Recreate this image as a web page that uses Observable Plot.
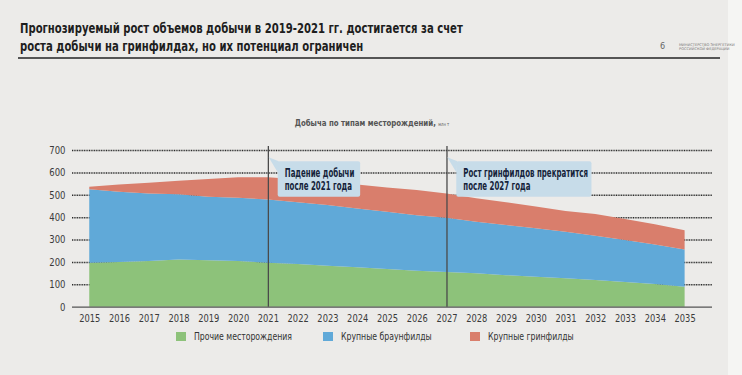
<!DOCTYPE html>
<html><head><meta charset="utf-8">
<script src="https://cdn.jsdelivr.net/npm/d3@7"></script>
<script src="https://cdn.jsdelivr.net/npm/@observablehq/plot@0.6"></script>
<style>
html,body{margin:0;padding:0;}
body{width:742px;height:375px;background:#ecebe9;position:relative;overflow:hidden;
 font-family:"Liberation Sans Narrow","DejaVu Sans Condensed",Arial,sans-serif;}
#edge{position:absolute;left:728px;top:0;width:14px;height:375px;background:#f5f5f3;}
#title{position:absolute;left:20px;top:19px;font-size:13.5px;font-weight:bold;color:#1e1e1e;line-height:18px;white-space:nowrap;transform:scaleX(0.83);transform-origin:0 0;}
#rule{position:absolute;left:18px;top:57px;width:702px;height:1.5px;background:#555;}
#page{position:absolute;left:660px;top:41px;font-size:9px;color:#666;}
#ministry{position:absolute;left:679px;top:43px;font-size:3.6px;line-height:4px;color:#777;font-family:"DejaVu Sans";}
#chart{position:absolute;left:0;top:0;}
#sub{position:absolute;left:0;width:742px;top:117px;text-align:center;font-size:9.5px;font-weight:bold;color:#555;white-space:nowrap;transform:scaleX(0.82);transform-origin:376px 0;}
#sub span{font-size:5px;font-weight:normal;}
#legend{position:absolute;top:330px;left:0;width:742px;font-size:10.5px;color:#333;}
.li{position:absolute;top:0;white-space:nowrap;}
.sw{display:inline-block;width:10px;height:9px;margin-right:8px;vertical-align:-1px;}
.lt{display:inline-block;transform:scaleX(0.82);transform-origin:0 0;}
</style></head>
<body>
<div id="edge"></div>
<div id="title">Прогнозируемый рост объемов добычи в 2019-2021 гг. достигается за счет<br>роста добычи на гринфилдах, но их потенциал ограничен</div>
<div id="rule"></div>
<div id="page">6</div>
<div id="ministry">МИНИСТЕРСТВО ЭНЕРГЕТИКИ<br>РОССИЙСКОЙ ФЕДЕРАЦИИ</div>
<div id="chart"></div>
<div id="sub">Добыча по типам месторождений, <span>млн т</span></div>
<div id="legend"></div>
<script>
const years = [2015,2016,2017,2018,2019,2020,2021,2022,2023,2024,2025,2026,2027,2028,2029,2030,2031,2032,2033,2034,2035];
const other      = [196,200,204,211,208,204,196,191,183,176,168,161,155,149,141,134,127,119,110,101,89];
const brownfield = [329,314,302,291,283,283,283,276,271,263,256,248,242,231,224,216,208,198,188,177,167];
const greenfield = [11,32,48,61,80,91,99,102,104,107,109,112,109,104,102,98,93,97,94,90,86];
const seriesNames = ["Прочие месторождения","Крупные браунфилды","Крупные гринфилды"];
const seriesColors = ["#8dc27a","#60a9d8","#d97e6c"];
const yTicks = [0,100,200,300,400,500,600,700];
const markerYears = [2021,2027];
const calloutTexts = ["Падение добычи\nпосле 2021 года","Рост гринфилдов прекратится\nпосле 2027 года"];
const calloutSpans = [2.77,4.54];

const seriesValues = [other, brownfield, greenfield];
const data = [];
seriesNames.forEach((s,i)=>years.forEach((yr,j)=>data.push({year:yr,type:s,value:seriesValues[i][j]})));
const callouts = markerYears.map((yr,i)=>({year:yr,text:calloutTexts[i],span:calloutSpans[i]}));

const font = '"Liberation Sans Narrow","DejaVu Sans Condensed",Arial,sans-serif';
const plot = Plot.plot({
  width:742, height:375,
  marginLeft:72, marginRight:30, marginTop:150, marginBottom:68.3,
  style:{background:"transparent", fontFamily:font, fontSize:"10.5px", color:"#3a3a3a", overflow:"visible"},
  x:{domain:[2014.42,2035.92], ticks:years, tickFormat:d=>String(d), tickSize:0, tickPadding:7, label:null},
  y:{domain:[0,700], ticks:yTicks, tickSize:0, tickPadding:7, label:null},
  color:{domain:seriesNames, range:seriesColors},
  marks:[
    Plot.ruleY(yTicks.filter(d=>d>0), {stroke:"#2a2a2a", strokeWidth:1.5, strokeDasharray:"1,0.7"}),
    Plot.areaY(data, {x:"year", y:"value", fill:"type", order:seriesNames, curve:"linear"}),
    Plot.ruleY([0], {stroke:"#555", strokeWidth:1.3}),
    Plot.ruleX(markerYears, {y1:0, y2:718, stroke:"#4a4a4a", strokeWidth:1.3}),
    Plot.rect(callouts, {x1:d=>d.year+0.33, x2:d=>d.year+0.33+d.span, y1:491, y2:650, fill:"#c7dce9", rx:2}),
    Plot.text(callouts, {x:d=>d.year+0.55, y:572, text:"text", textAnchor:"start", lineAnchor:"middle", lineHeight:1.12, fontWeight:"bold", fontSize:11.5, fill:"#15233a"})
  ]
});
document.getElementById("chart").appendChild(plot);
// horizontal condensation of text (no narrow font installed)
function squeeze(sel, s){
  plot.querySelectorAll(sel).forEach(t=>{
    const tr = t.getAttribute("transform");
    if (tr) t.setAttribute("transform", tr + ` scale(${s},1)`);
    else {
      const x = +t.getAttribute("x")||0, y = +t.getAttribute("y")||0;
      t.removeAttribute("x"); t.removeAttribute("y");
      t.setAttribute("transform", `translate(${x},${y}) scale(${s},1)`);
    }
  });
}
squeeze('g[aria-label="x-axis tick label"] text', 0.88);
squeeze('g[aria-label="y-axis tick label"] text', 0.9);
squeeze('g[aria-label="text"] text', 0.68);
// callout tails, positioned through the plot's own scales
const xs = plot.scale("x"), ys = plot.scale("y");
const svg = d3.select(plot);
callouts.forEach(c=>{
  const x0 = xs.apply(c.year), bx = xs.apply(c.year+0.33), top = ys.apply(650);
  svg.append("path")
    .attr("d", `M${x0+0.8},${top-4} L${bx+1},${top} L${bx},${top+11} Z`)
    .attr("fill","#c7dce9");
});
// legend
const lg = document.getElementById("legend");
const lx = [176,323,470];
seriesNames.forEach((s,i)=>{
  const d = document.createElement("div"); d.className="li"; d.style.left=lx[i]+"px";
  d.innerHTML = `<span class="sw" style="background:${seriesColors[i]}"></span><span class="lt">${s}</span>`;
  lg.appendChild(d);
});
</script>
</body></html>
